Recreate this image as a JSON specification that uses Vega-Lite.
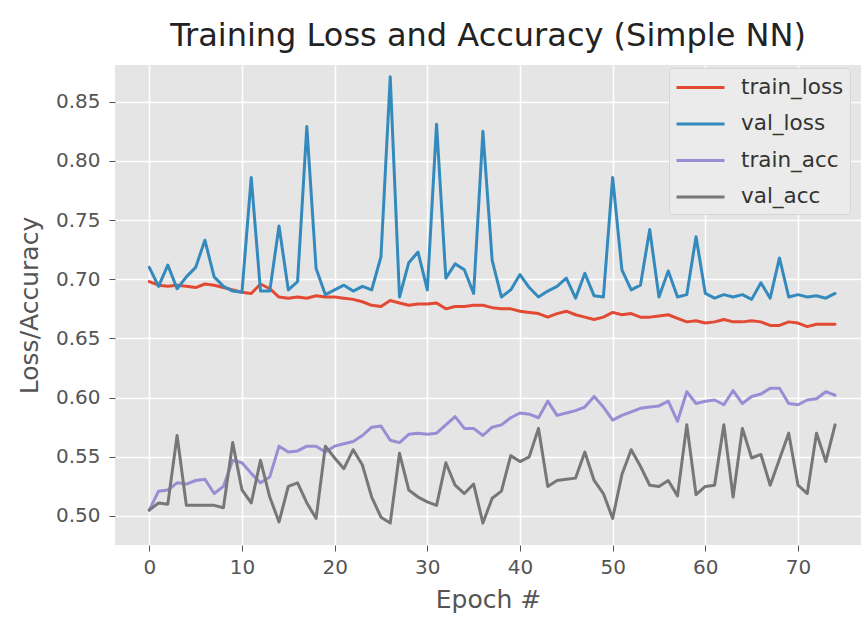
{
  "$schema": "https://vega.github.io/schema/vega-lite/v6.json",
  "autosize": "none",
  "padding": {"left": 115, "top": 65, "right": 0, "bottom": 77},
  "width": 746,
  "height": 480,
  "background": "white",
  "title": {
    "text": "Training Loss and Accuracy (Simple NN)",
    "font": "DejaVu Sans",
    "fontSize": 32,
    "fontWeight": "normal",
    "color": "#222222",
    "anchor": "middle",
    "offset": 12
  },
  "config": {
    "view": {"fill": "#E5E5E5", "stroke": null},
    "axis": {
      "labelFont": "DejaVu Sans",
      "titleFont": "DejaVu Sans",
      "labelColor": "#555555",
      "titleColor": "#555555",
      "labelFontSize": 20,
      "titleFontSize": 25,
      "titleFontWeight": "normal",
      "domain": false,
      "tickColor": "#555555",
      "tickSize": 6,
      "grid": true,
      "gridColor": "#FFFFFF",
      "gridWidth": 1.5
    },
    "legend": {
      "labelFont": "DejaVu Sans"
    }
  },
  "data": {
    "values": [
      {"epoch":0,"train_loss":0.698,"val_loss":0.710,"train_acc":0.505,"val_acc":0.505},
      {"epoch":1,"train_loss":0.695,"val_loss":0.694,"train_acc":0.521,"val_acc":0.511},
      {"epoch":2,"train_loss":0.694,"val_loss":0.712,"train_acc":0.522,"val_acc":0.510},
      {"epoch":3,"train_loss":0.695,"val_loss":0.692,"train_acc":0.528,"val_acc":0.568},
      {"epoch":4,"train_loss":0.694,"val_loss":0.702,"train_acc":0.527,"val_acc":0.509},
      {"epoch":5,"train_loss":0.693,"val_loss":0.710,"train_acc":0.530,"val_acc":0.509},
      {"epoch":6,"train_loss":0.696,"val_loss":0.733,"train_acc":0.531,"val_acc":0.509},
      {"epoch":7,"train_loss":0.695,"val_loss":0.702,"train_acc":0.519,"val_acc":0.509},
      {"epoch":8,"train_loss":0.693,"val_loss":0.694,"train_acc":0.525,"val_acc":0.507},
      {"epoch":9,"train_loss":0.691,"val_loss":0.690,"train_acc":0.547,"val_acc":0.562},
      {"epoch":10,"train_loss":0.689,"val_loss":0.689,"train_acc":0.545,"val_acc":0.522},
      {"epoch":11,"train_loss":0.688,"val_loss":0.786,"train_acc":0.536,"val_acc":0.511},
      {"epoch":12,"train_loss":0.696,"val_loss":0.690,"train_acc":0.528,"val_acc":0.547},
      {"epoch":13,"train_loss":0.692,"val_loss":0.690,"train_acc":0.533,"val_acc":0.516},
      {"epoch":14,"train_loss":0.685,"val_loss":0.745,"train_acc":0.559,"val_acc":0.495},
      {"epoch":15,"train_loss":0.684,"val_loss":0.691,"train_acc":0.554,"val_acc":0.525},
      {"epoch":16,"train_loss":0.685,"val_loss":0.698,"train_acc":0.555,"val_acc":0.528},
      {"epoch":17,"train_loss":0.684,"val_loss":0.829,"train_acc":0.559,"val_acc":0.511},
      {"epoch":18,"train_loss":0.686,"val_loss":0.709,"train_acc":0.559,"val_acc":0.498},
      {"epoch":19,"train_loss":0.685,"val_loss":0.687,"train_acc":0.554,"val_acc":0.559},
      {"epoch":20,"train_loss":0.685,"val_loss":0.691,"train_acc":0.559,"val_acc":0.549},
      {"epoch":21,"train_loss":0.684,"val_loss":0.695,"train_acc":0.561,"val_acc":0.540},
      {"epoch":22,"train_loss":0.683,"val_loss":0.690,"train_acc":0.563,"val_acc":0.556},
      {"epoch":23,"train_loss":0.681,"val_loss":0.694,"train_acc":0.568,"val_acc":0.543},
      {"epoch":24,"train_loss":0.678,"val_loss":0.691,"train_acc":0.575,"val_acc":0.516},
      {"epoch":25,"train_loss":0.677,"val_loss":0.719,"train_acc":0.576,"val_acc":0.499},
      {"epoch":26,"train_loss":0.682,"val_loss":0.871,"train_acc":0.564,"val_acc":0.494},
      {"epoch":27,"train_loss":0.680,"val_loss":0.685,"train_acc":0.562,"val_acc":0.553},
      {"epoch":28,"train_loss":0.678,"val_loss":0.714,"train_acc":0.569,"val_acc":0.522},
      {"epoch":29,"train_loss":0.679,"val_loss":0.723,"train_acc":0.570,"val_acc":0.516},
      {"epoch":30,"train_loss":0.679,"val_loss":0.691,"train_acc":0.569,"val_acc":0.512},
      {"epoch":31,"train_loss":0.680,"val_loss":0.831,"train_acc":0.570,"val_acc":0.509},
      {"epoch":32,"train_loss":0.675,"val_loss":0.701,"train_acc":0.577,"val_acc":0.545},
      {"epoch":33,"train_loss":0.677,"val_loss":0.713,"train_acc":0.584,"val_acc":0.526},
      {"epoch":34,"train_loss":0.677,"val_loss":0.708,"train_acc":0.574,"val_acc":0.519},
      {"epoch":35,"train_loss":0.678,"val_loss":0.688,"train_acc":0.574,"val_acc":0.527},
      {"epoch":36,"train_loss":0.678,"val_loss":0.825,"train_acc":0.568,"val_acc":0.494},
      {"epoch":37,"train_loss":0.676,"val_loss":0.716,"train_acc":0.575,"val_acc":0.515},
      {"epoch":38,"train_loss":0.675,"val_loss":0.685,"train_acc":0.577,"val_acc":0.521},
      {"epoch":39,"train_loss":0.675,"val_loss":0.691,"train_acc":0.583,"val_acc":0.551},
      {"epoch":40,"train_loss":0.673,"val_loss":0.704,"train_acc":0.587,"val_acc":0.546},
      {"epoch":41,"train_loss":0.672,"val_loss":0.693,"train_acc":0.586,"val_acc":0.550},
      {"epoch":42,"train_loss":0.671,"val_loss":0.685,"train_acc":0.583,"val_acc":0.574},
      {"epoch":43,"train_loss":0.668,"val_loss":0.690,"train_acc":0.597,"val_acc":0.525},
      {"epoch":44,"train_loss":0.671,"val_loss":0.694,"train_acc":0.585,"val_acc":0.530},
      {"epoch":45,"train_loss":0.673,"val_loss":0.701,"train_acc":0.587,"val_acc":0.531},
      {"epoch":46,"train_loss":0.670,"val_loss":0.684,"train_acc":0.589,"val_acc":0.532},
      {"epoch":47,"train_loss":0.668,"val_loss":0.705,"train_acc":0.592,"val_acc":0.554},
      {"epoch":48,"train_loss":0.666,"val_loss":0.686,"train_acc":0.601,"val_acc":0.530},
      {"epoch":49,"train_loss":0.668,"val_loss":0.685,"train_acc":0.592,"val_acc":0.519},
      {"epoch":50,"train_loss":0.672,"val_loss":0.786,"train_acc":0.581,"val_acc":0.498},
      {"epoch":51,"train_loss":0.670,"val_loss":0.708,"train_acc":0.585,"val_acc":0.535},
      {"epoch":52,"train_loss":0.671,"val_loss":0.691,"train_acc":0.588,"val_acc":0.556},
      {"epoch":53,"train_loss":0.668,"val_loss":0.695,"train_acc":0.591,"val_acc":0.542},
      {"epoch":54,"train_loss":0.668,"val_loss":0.742,"train_acc":0.592,"val_acc":0.526},
      {"epoch":55,"train_loss":0.669,"val_loss":0.685,"train_acc":0.593,"val_acc":0.525},
      {"epoch":56,"train_loss":0.670,"val_loss":0.707,"train_acc":0.597,"val_acc":0.530},
      {"epoch":57,"train_loss":0.667,"val_loss":0.685,"train_acc":0.580,"val_acc":0.517},
      {"epoch":58,"train_loss":0.664,"val_loss":0.687,"train_acc":0.605,"val_acc":0.577},
      {"epoch":59,"train_loss":0.665,"val_loss":0.736,"train_acc":0.595,"val_acc":0.518},
      {"epoch":60,"train_loss":0.663,"val_loss":0.688,"train_acc":0.597,"val_acc":0.525},
      {"epoch":61,"train_loss":0.664,"val_loss":0.684,"train_acc":0.598,"val_acc":0.526},
      {"epoch":62,"train_loss":0.666,"val_loss":0.687,"train_acc":0.594,"val_acc":0.577},
      {"epoch":63,"train_loss":0.664,"val_loss":0.685,"train_acc":0.606,"val_acc":0.516},
      {"epoch":64,"train_loss":0.664,"val_loss":0.687,"train_acc":0.595,"val_acc":0.574},
      {"epoch":65,"train_loss":0.665,"val_loss":0.683,"train_acc":0.601,"val_acc":0.549},
      {"epoch":66,"train_loss":0.664,"val_loss":0.697,"train_acc":0.603,"val_acc":0.552},
      {"epoch":67,"train_loss":0.661,"val_loss":0.684,"train_acc":0.608,"val_acc":0.526},
      {"epoch":68,"train_loss":0.661,"val_loss":0.718,"train_acc":0.608,"val_acc":0.548},
      {"epoch":69,"train_loss":0.664,"val_loss":0.685,"train_acc":0.595,"val_acc":0.570},
      {"epoch":70,"train_loss":0.663,"val_loss":0.687,"train_acc":0.594,"val_acc":0.526},
      {"epoch":71,"train_loss":0.660,"val_loss":0.685,"train_acc":0.598,"val_acc":0.519},
      {"epoch":72,"train_loss":0.662,"val_loss":0.686,"train_acc":0.599,"val_acc":0.570},
      {"epoch":73,"train_loss":0.662,"val_loss":0.684,"train_acc":0.605,"val_acc":0.546},
      {"epoch":74,"train_loss":0.662,"val_loss":0.688,"train_acc":0.602,"val_acc":0.577}
    ]
  },
  "transform": [
    {"fold": ["train_loss", "val_loss", "train_acc", "val_acc"], "as": ["series", "value"]}
  ],
  "mark": {"type": "line", "strokeWidth": 3, "strokeJoin": "round", "strokeCap": "round"},
  "encoding": {
    "x": {
      "field": "epoch",
      "type": "quantitative",
      "scale": {"domain": [-3.7, 76.8], "nice": false, "zero": false},
      "axis": {"values": [0, 10, 20, 30, 40, 50, 60, 70], "title": "Epoch #", "labelPadding": 6, "titlePadding": 10}
    },
    "y": {
      "field": "value",
      "type": "quantitative",
      "scale": {"domain": [0.4755, 0.881], "nice": false, "zero": false},
      "axis": {"values": [0.5, 0.55, 0.6, 0.65, 0.7, 0.75, 0.8, 0.85], "format": ".2f", "title": "Loss/Accuracy", "labelPadding": 9, "titlePadding": 13}
    },
    "color": {
      "field": "series",
      "type": "nominal",
      "sort": ["train_loss", "val_loss", "train_acc", "val_acc"],
      "scale": {"domain": ["train_loss", "val_loss", "train_acc", "val_acc"], "range": ["#E24A33", "#348ABD", "#988ED5", "#777777"]},
      "legend": {
        "title": null,
        "orient": "none",
        "legendX": 554,
        "legendY": 3,
        "symbolType": "M-1,0H3",
        "symbolStrokeWidth": 3,
        "symbolSize": 576,
        "labelFontSize": 21.5,
        "labelColor": "#333333",
        "labelOffset": 39,
        "rowPadding": 12.5,
        "fillColor": "#EBEBEB",
        "strokeColor": "#D5D5D5",
        "padding": 6,
        "cornerRadius": 3
      }
    }
  }
}
